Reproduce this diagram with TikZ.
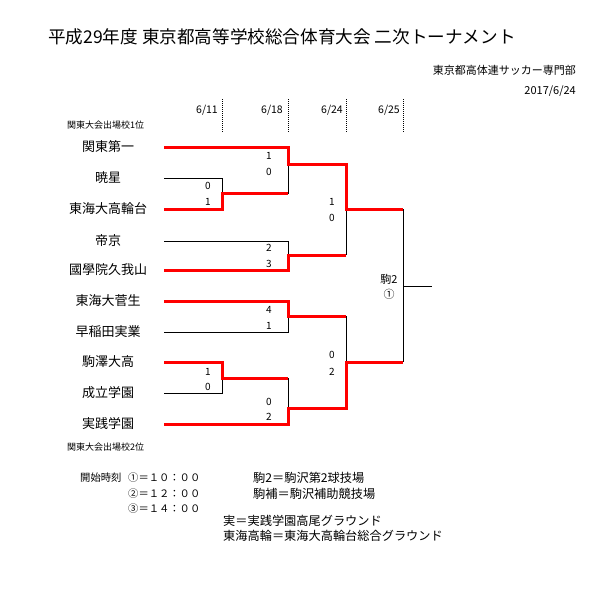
\documentclass[tikz,border=0pt]{standalone}
\usepackage{fontspec}
\setmainfont{Noto Sans CJK JP}
\begin{document}
\begin{tikzpicture}[x=1pt,y=-1pt,
  txt/.style={inner sep=0pt,font=\fontsize{11}{13}\selectfont},
  foot/.style={inner sep=0pt,anchor=west,font=\fontsize{12.2}{14}\selectfont},
  kick/.style={inner sep=0pt,anchor=west,font=\fontsize{10.3}{12}\selectfont},
  team/.style={inner sep=0pt,font=\fontsize{13}{15}\selectfont},
  score/.style={inner sep=0pt,font=\fontsize{10}{12}\selectfont},
  rdate/.style={inner sep=0pt,anchor=east,font=\fontsize{10.5}{12}\selectfont},
  small/.style={inner sep=0pt,anchor=west,font=\fontsize{9}{10}\selectfont},
  lose/.style={draw=black,line width=0.8pt},
  win/.style={draw=red,line width=3pt,line join=miter},
  guide/.style={draw=black,line width=0.8pt,dash pattern=on 1pt off 1pt}]
\fill[white] (0,0) rectangle (592,602);
\useasboundingbox (0,0) rectangle (592,602);

% header
\node[inner sep=0pt,anchor=west,font=\fontsize{17.6}{20}\selectfont] (title) at (48,37) {平成29年度 東京都高等学校総合体育大会 二次トーナメント};
\node[txt,anchor=east] (org) at (576,70) {東京都高体連サッカー専門部};
\node[txt,anchor=east] (date) at (576,91) {2017/6/24};

% round dates and guides
\node[rdate] (d1) at (218,110) {6/11};
\node[rdate] (d2) at (283,110) {6/18};
\node[rdate] (d3) at (343,110) {6/24};
\node[rdate] (d4) at (400,110) {6/25};
\foreach \gx/\gn in {222/g1,288/g2,346/g3,403/g4}{
  \coordinate (\gn t) at (\gx,99);
  \coordinate (\gn b) at (\gx,132);
  \draw[guide] (\gn t) -- (\gn b);
}

\node[small] (top) at (67,125) {関東大会出場校1位};
\node[small] (bot) at (67,447) {関東大会出場校2位};

% teams
\foreach \ty/\tn/\tname in {147/1/関東第一,178/2/暁星,209/3/東海大高輪台,241/4/帝京,270/5/國學院久我山,301/6/東海大菅生,332/7/早稲田実業,362/8/駒澤大高,393/9/成立学園,424/10/実践学園}{
  \node[team] (n\tn) at (108,\ty) {\tname};
  \coordinate (s\tn) at (164,\ty);
}

% junctions
\coordinate (r1a) at (222,193);
\coordinate (r1b) at (222,378);
\coordinate (r2a) at (288,164);
\coordinate (r2b) at (288,255);
\coordinate (r2c) at (288,316);
\coordinate (r2d) at (288,408);
\coordinate (r3a) at (346,209);
\coordinate (r3b) at (346,362);
\coordinate (fin) at (403,286);
\coordinate (fe) at (432,286);

% losing / unplayed lines
\draw[lose] (s2) -| (r1a);
\draw[lose] (r2a) |- (r1a);
\draw[lose] (s4) -| (r2b);
\draw[lose] (r3a) -- (r2b -| r3a);
\draw[lose] (s7) -| (r2c);
\draw[lose] (r2c -| r3b) -- (r3b);
\draw[lose] (s9) -| (r1b);
\draw[lose] (r1b -| r2d) -- (r2d);
\draw[lose] (r3a -| fin) -- (r3b -| fin);
\draw[lose] (fin) -- (fe);

% winning lines
\draw[win] (s1) -| (r2a) -| (r3a) -- (r3a -| fin);
\draw[win] (s3) -| (r1a) -- (r1a -| r2a);
\draw[win] (s5) -| (r2b) -- (r2b -| r3a);
\draw[win] (s6) -| (r2c) -- (r2c -| r3b);
\draw[win] (s8) -| (r1b) -- (r1b -| r2d);
\draw[win] (s10) -| (r2d) -| (r3b) -- (r3b -| fin);

% scores
\node[score] (a1) at (208,186) {0};
\node[score] (a2) at (208,202) {1};
\node[score] (b1) at (269,156) {1};
\node[score] (b2) at (269,172) {0};
\node[score] (c1) at (332,202) {1};
\node[score] (c2) at (332,218) {0};
\node[score] (e1) at (269,248) {2};
\node[score] (e2) at (269,264) {3};
\node[score] (f1) at (269,310) {4};
\node[score] (f2) at (269,326) {1};
\node[score] (h1) at (332,355) {0};
\node[score] (h2) at (332,372) {2};
\node[score] (k1) at (208,372) {1};
\node[score] (k2) at (208,387) {0};
\node[score] (m1) at (269,402) {0};
\node[score] (m2) at (269,417) {2};

% final venue
\node[txt] (venue) at (389,279) {駒2};
\node[txt] (slot) at (389,294) {①};

% footer
\node[kick] (kick) at (80,478) {開始時刻};
\node[kick] (k1t) at (128,478) {①＝１０：００};
\node[kick] (k2t) at (128,494) {②＝１２：００};
\node[kick] (k3t) at (128,509) {③＝１４：００};
\node[foot] (v1) at (253,478) {駒2＝駒沢第2球技場};
\node[foot] (v2) at (253,494) {駒補＝駒沢補助競技場};
\node[foot] (v3) at (223,521) {実＝実践学園高尾グラウンド};
\node[foot] (v4) at (223,536) {東海高輪＝東海大高輪台総合グラウンド};
\end{tikzpicture}
\end{document}
